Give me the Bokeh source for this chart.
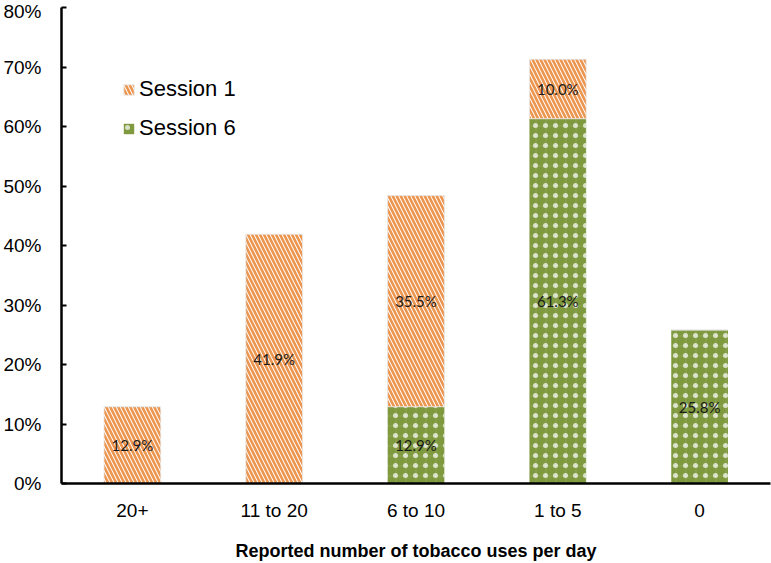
from bokeh.plotting import figure
from bokeh.models import ColumnDataSource, FactorRange, Legend, LegendItem, FixedTicker
from bokeh.transform import stack
from bokeh.core.properties import value
from bokeh.embed import file_html
from bokeh.resources import INLINE

categories = ["20+", "11 to 20", "6 to 10", "1 to 5", "0"]
session1 = [12.9, 41.9, 35.5, 10.0, 0.0]
session6 = [0.0, 0.0, 12.9, 61.3, 25.8]
y_ticks = [0, 10, 20, 30, 40, 50, 60, 70, 80]
y_tick_labels = ["0%", "10%", "20%", "30%", "40%", "50%", "60%", "70%", "80%"]
x_title = "Reported number of tobacco uses per day"

ORANGE = "#EC954F"
GREEN = "#7F993F"

src = ColumnDataSource(dict(cat=categories, s1=session1, s6=session6))

p = figure(x_range=FactorRange(*categories), y_range=(0, 80),
           width=771, height=563, output_backend="svg", toolbar_location=None,
           min_border_left=60, min_border_right=1, min_border_top=7, min_border_bottom=60)
p.outline_line_color = None
p.xgrid.grid_line_color = None
p.ygrid.grid_line_color = None
p.x_range.range_padding = 0

r6 = p.vbar(x="cat", width=0.4, bottom=stack(), top=stack("s6"), source=src,
            fill_color=GREEN, line_color=None,
            hatch_pattern="dot", hatch_color="white", hatch_alpha=0.7, hatch_scale=10, hatch_weight=0.3)
p.vbar(x="cat", width=0.4, bottom=stack(), top=stack("s6"), source=src,
       fill_color=None, line_color=None,
       hatch_pattern="cross", hatch_color="white", hatch_alpha=0.12, hatch_scale=10, hatch_weight=1)
r1 = p.vbar(x="cat", width=0.4, bottom=stack("s6"), top=stack("s6", "s1"), source=src,
            fill_color="white", line_color="#e6e6e6", line_width=0.8,
            hatch_pattern="left_diagonal_line", hatch_color=ORANGE, hatch_scale=8, hatch_weight=2.6)

lx, ly, lt = [], [], []
for c, a, b in zip(categories, session6, session1):
    if a > 0:
        lx.append(c); ly.append(a / 2); lt.append(f"{a:.1f}%")
    if b > 0:
        lx.append(c); ly.append(a + b / 2); lt.append(f"{b:.1f}%")
p.text(x=lx, y=ly, text=lt, text_align="center", text_baseline="middle",
       text_font=value("Lato"), text_font_size="15px", text_color="#1a1a1a")

for ax in (p.xaxis[0], p.yaxis[0]):
    ax.axis_line_color = "black"
    ax.axis_line_width = 2.5
    ax.major_label_text_font = "Liberation Sans"
    ax.major_label_text_font_size = "19px"
    ax.major_label_text_color = "black"
    ax.minor_tick_line_color = None

p.yaxis.ticker = FixedTicker(ticks=y_ticks)
p.yaxis.major_label_overrides = {t: l for t, l in zip(y_ticks, y_tick_labels)}
p.yaxis.major_tick_in = 5
p.yaxis.major_tick_out = 0
p.yaxis.major_tick_line_width = 2
p.yaxis.major_label_standoff = 20

p.xaxis.major_tick_line_color = None
p.xaxis.major_tick_out = 0
p.xaxis.major_label_standoff = 16
p.xaxis.axis_label = x_title
p.xaxis.axis_label_text_font = "Liberation Sans"
p.xaxis.axis_label_text_font_style = "bold"
p.xaxis.axis_label_text_font_size = "18px"
p.xaxis.axis_label_text_color = "black"
p.xaxis.axis_label_standoff = 17

legend = Legend(items=[LegendItem(label="Session 1", renderers=[r1]),
                       LegendItem(label="Session 6", renderers=[r6])],
                location=(61, 342), orientation="vertical")
legend.border_line_color = None
legend.background_fill_alpha = 0
legend.padding = 0
legend.margin = 0
legend.spacing = 13
legend.glyph_width = 13
legend.glyph_height = 13
legend.label_height = 26
legend.label_standoff = 4
legend.label_text_font = "Liberation Sans"
legend.label_text_font_size = "22px"
legend.label_text_color = "black"
p.add_layout(legend, "center")

open("out.html", "w").write(file_html(p, INLINE))
